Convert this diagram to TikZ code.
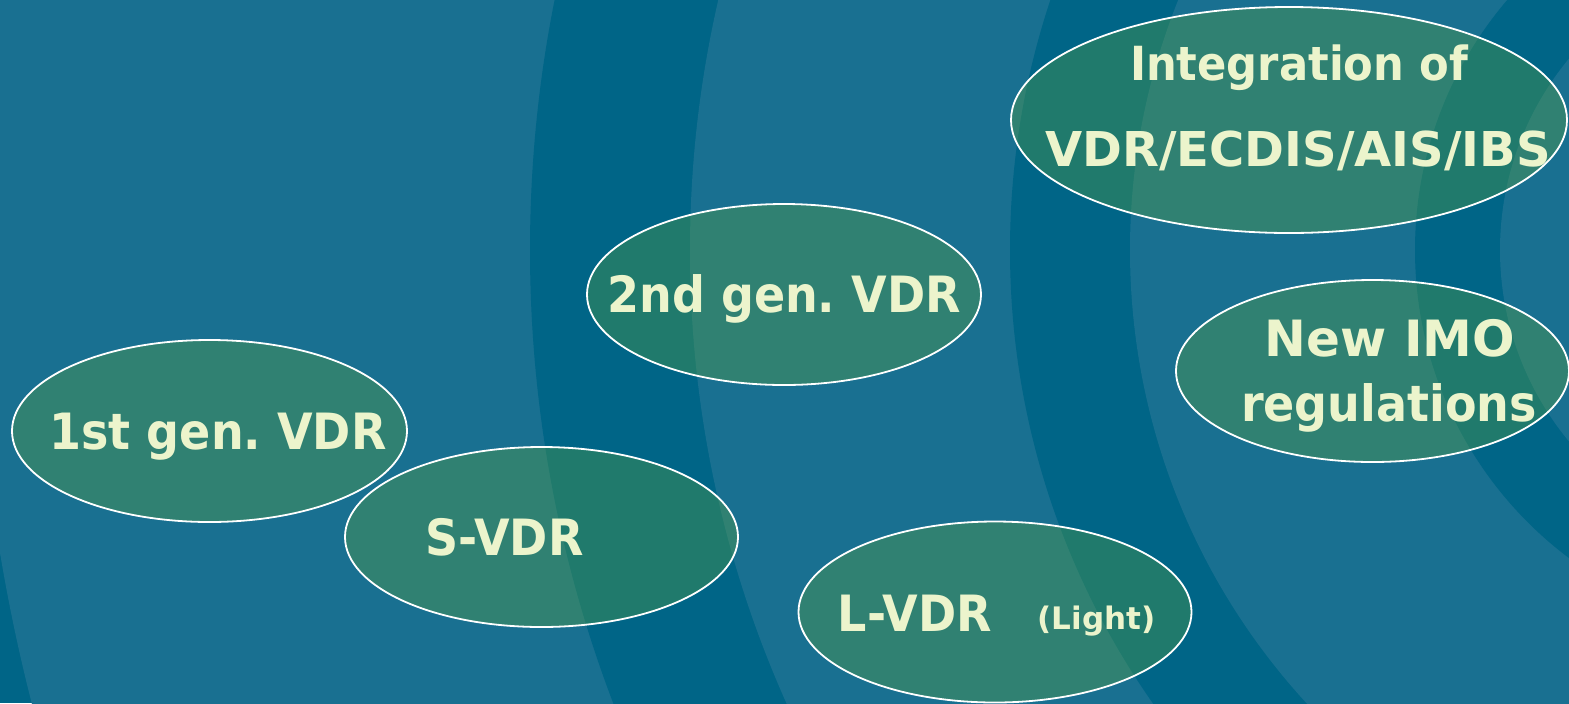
\documentclass[tikz,border=0pt]{standalone}
\usepackage{fontspec}
\newfontfamily\vdrfont{DejaVu Sans}[FakeStretch=0.92]
\newfontfamily\vdrwide{DejaVu Sans}
\definecolor{bglight}{RGB}{25,112,145}
\definecolor{bgdark}{RGB}{0,101,135}
\definecolor{bubblegreen}{RGB}{92,163,59}
\definecolor{labelcream}{RGB}{236,244,204}
\frenchspacing

\begin{document}
\begin{tikzpicture}[x=0.5pt,y=0.5pt,yscale=-1,xscale=1,
	bubble/.style={draw=white,line width=0.9pt,fill=bubblegreen,fill opacity=0.35},
	vdrlabel/.style={anchor=base,inner sep=0pt,text=labelcream,font=\vdrfont\bfseries\fontsize{#1}{#1}\selectfont},
	vdrlabel/.default=25,
	vdrcaps/.style={anchor=base,inner sep=0pt,text=labelcream,font=\vdrwide\bfseries\fontsize{#1}{#1}\selectfont},
	vdrcaps/.default=25]
			\path[use as bounding box] (0,0) rectangle (1569,703);

			%Background rings
			\begin{scope}
			\clip (0,0) rectangle (1569,703);
			\fill[bgdark] (0,0) rectangle (1569,703);
			\fill[bglight] (1800,250) circle (1825);
			\fill[bgdark] (1800,250) circle (1270);
			\fill[bglight] (1800,250) circle (1110);
			\fill[bgdark] (1800,250) circle (790);
			\fill[bglight] (1800,250) circle (670);
			\fill[bgdark] (1800,250) circle (385);
			\fill[bglight] (1800,250) circle (300);
			\end{scope}

			%Shape: Ellipse
			\draw[bubble] (209.5,431) ellipse (197.5 and 91);
			%Shape: Ellipse
			\draw[bubble] (541.5,537) ellipse (196.5 and 90);
			%Shape: Ellipse
			\draw[bubble] (784,294.5) ellipse (197 and 90.5);
			%Shape: Ellipse
			\draw[bubble] (995,612) ellipse (196.5 and 90.5);
			%Shape: Ellipse
			\draw[bubble] (1289,120) ellipse (278 and 113);
			%Shape: Ellipse
			\draw[bubble] (1372.5,371) ellipse (196.5 and 91);

			% Text Node
			\node[vdrlabel] (gen1) at (218,449) {1st gen. VDR};
			% Text Node
			\node[vdrlabel] (svdr) at (504.5,555) {S-VDR};
			% Text Node
			\node[vdrlabel] (gen2) at (784,312.7) {2nd gen. VDR};
			% Text Node
			\node[vdrlabel] (lvdr) at (915,631) {L-VDR};
			% Text Node
			\node[vdrcaps=15.5] (light) at (1096.5,629) {(Light)};
			% Text Node
			\node[vdrlabel=23.5] (integ) at (1299,80) {Integration of};
			% Text Node
			\node[vdrcaps=24] (ecdis) at (1298,166.7) {VDR/ECDIS/AIS/IBS};
			% Text Node
			\node[vdrcaps] (imo) at (1390,356.7) {New IMO};
			% Text Node
			\node[vdrlabel] (regs) at (1389,421.7) {regulations};

\end{tikzpicture}
\end{document}
